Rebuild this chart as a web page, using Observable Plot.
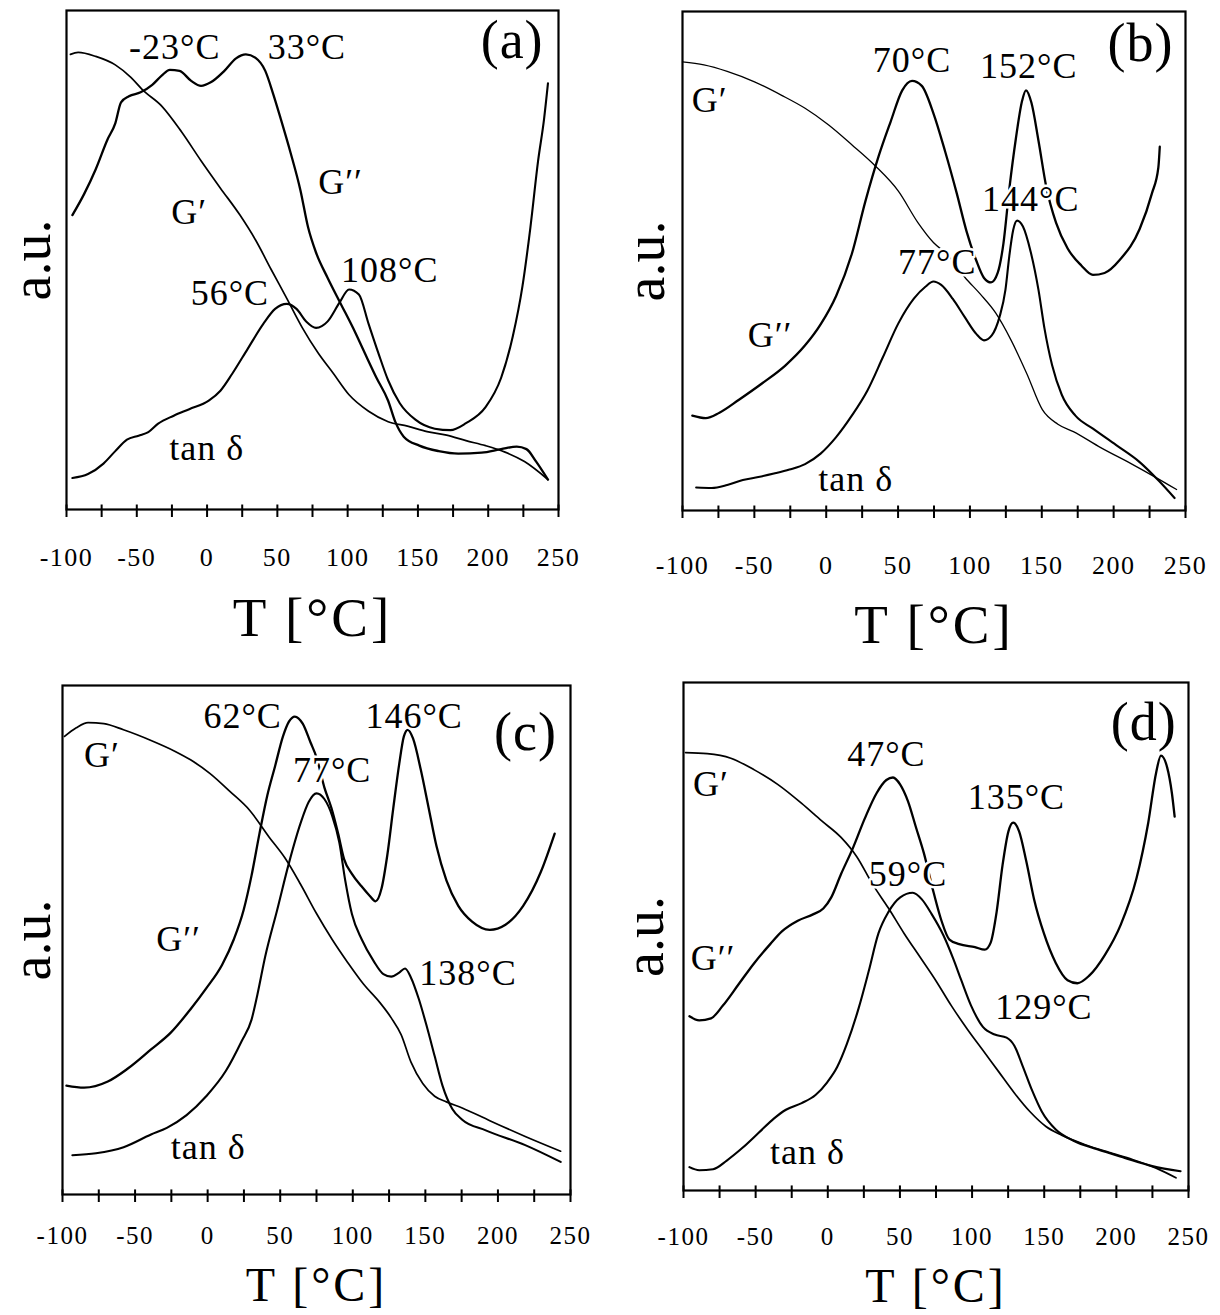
<!DOCTYPE html>
<html><head><meta charset="utf-8">
<script src="https://cdn.jsdelivr.net/npm/d3@7"></script>
<script src="https://cdn.jsdelivr.net/npm/@observablehq/plot@0.6"></script>
<style>
body{margin:0;background:#fff;}
#wrap{position:relative;width:1220px;height:1315px;overflow:hidden;background:#fff;}
.panel{position:absolute;}
svg g[aria-label="x-axis tick label"] text{letter-spacing:1.5px;}
svg g[aria-label="x-axis label"] text{letter-spacing:3px;}
svg g[aria-label="text"] text{letter-spacing:1px;}
</style></head><body><div id="wrap"></div>
<script>
// shared axis ticks (°C)
const xTicks = [-100,-75,-50,-25,0,25,50,75,100,125,150,175,200,225,250];

// ---- panel (a) ----
const aGp = [[-97.2,91.2],[-91.7,91.6],[-79.2,90.8],[-65.3,89.1],[-54.2,86.6],[-45.9,84.1],[-32.1,80.8],[-18.2,75.7],[-4.3,69.9],[9.5,64.4],[23.4,59.0],[34.5,54.0],[45.6,48.1],[56.7,42.3],[67.8,36.4],[78.9,31.4],[90.0,27.2],[101.0,23.0],[114.9,19.7],[128.8,17.6],[142.6,16.7],[156.5,15.6],[170.4,14.9],[184.2,13.8],[198.1,12.8],[212.0,11.5],[225.8,9.6],[242.5,6.0]];
const aGpp = [[-95.8,59.0],[-87.5,63.2],[-79.2,68.2],[-70.9,74.1],[-65.3,77.4],[-61.2,81.6],[-55.6,82.8],[-47.3,83.6],[-39.0,85.1],[-32.1,87.0],[-26.5,88.1],[-19.6,87.9],[-11.3,85.9],[-4.3,84.9],[2.6,85.6],[12.3,87.9],[20.6,90.4],[27.6,91.2],[34.5,90.5],[41.4,87.9],[47.0,83.3],[52.5,78.2],[59.4,71.5],[66.4,64.0],[71.9,56.5],[77.5,51.5],[85.8,46.4],[95.5,41.0],[103.8,36.4],[112.1,31.4],[120.5,26.4],[128.8,21.8],[134.0,17.5],[139.9,14.6],[151.0,12.8],[164.8,11.7],[178.7,11.2],[195.3,11.4],[209.2,12.1],[220.3,12.6],[227.2,12.1],[234.1,9.6],[242.5,6.0]];
const aTan = [[-95.8,6.3],[-84.7,7.1],[-73.7,9.2],[-65.3,11.7],[-57.0,14.0],[-48.7,14.8],[-41.8,15.5],[-34.8,17.2],[-23.7,18.8],[-12.7,20.1],[1.2,21.8],[9.5,23.8],[17.9,27.2],[28.9,32.2],[40.0,37.2],[48.4,40.2],[56.7,41.2],[63.6,40.2],[70.5,37.7],[77.5,36.4],[85.8,37.7],[94.1,41.4],[101.0,44.1],[108.0,43.1],[114.9,37.2],[121.8,31.4],[128.8,25.9],[137.1,21.3],[148.2,18.0],[162.0,16.2],[173.1,15.9],[184.2,17.3],[198.1,20.5],[209.2,26.4],[217.5,34.7],[224.4,44.8],[230.0,56.5],[235.5,69.9],[239.7,78.2],[242.5,85.4]];
const aLabels = [{T:-23,v:92.6,s:"-23°C"},{T:71,v:92.6,s:"33°C"},{T:95,v:65.5,s:"G′′"},{T:-12.7,v:59.5,s:"G′"},{T:16.2,v:43.3,s:"56°C"},{T:130,v:47.9,s:"108°C"},{T:-0.2,v:12.2,s:"tan δ"}];
const aLetter = [{T:217,v:94,s:"(a)"}];

// ---- panel (b) ----
const bGp = [[-100,89.9],[-85.1,89.3],[-68.9,88.0],[-49.9,85.9],[-31.0,83.2],[-14.7,80.6],[1.5,77.3],[17.8,73.3],[34.0,69.1],[50.2,64.0],[63.8,57.7],[74.6,53.7],[85.4,51.0],[96.3,46.8],[107.1,43.4],[117.9,39.6],[128.7,34.1],[139.6,27.4],[150.4,20.2],[161.2,17.3],[172.0,15.8],[191.0,12.6],[212.7,9.3],[228.9,6.7],[243.8,4.2]];
const bGpp = [[-93.2,19.0],[-83.8,18.5],[-74.3,19.6],[-60.7,22.2],[-44.5,25.5],[-28.3,29.1],[-14.7,33.1],[-3.9,37.3],[6.9,43.0],[17.8,51.4],[27.2,61.9],[36.7,71.2],[44.8,77.9],[52.9,84.2],[59.7,86.1],[66.5,85.1],[74.6,79.6],[82.7,72.0],[90.8,63.6],[97.6,56.0],[104.4,50.1],[109.8,46.6],[114.7,45.7],[119.3,47.6],[123.3,53.5],[127.4,64.4],[132.0,74.6],[136.3,82.1],[139.0,84.2],[142.8,81.7],[147.7,74.1],[153.1,64.9],[159.9,57.7],[168.0,52.5],[177.5,49.1],[185.6,47.2],[193.7,47.6],[204.5,50.3],[218.1,56.4],[226.7,63.6],[231.1,68.7],[232.1,72.9]];
const bTan = [[-90.5,4.6],[-79.7,4.5],[-68.9,5.1],[-58.0,6.1],[-47.2,6.7],[-36.4,7.4],[-25.6,8.2],[-14.7,9.3],[-3.9,11.4],[6.9,14.7],[17.8,19.0],[28.6,24.0],[39.4,30.7],[50.2,37.5],[61.1,42.5],[69.2,44.9],[74.6,45.9],[80.0,45.2],[88.1,42.4],[96.3,38.8],[104.4,35.4],[109.8,34.1],[115.2,35.1],[120.6,38.8],[124.7,44.2],[127.4,51.0],[130.1,56.2],[132.8,58.1],[136.9,56.9],[142.3,51.8],[147.7,44.2],[151.8,36.6],[157.2,29.1],[163.9,23.2],[173.4,19.0],[185.6,16.4],[201.8,13.1],[218.1,9.7],[231.6,5.9],[242.4,2.5]];
const bLabels = [{T:59.7,v:90.1,s:"70°C"},{T:140.9,v:88.9,s:"152°C"},{T:-81.1,v:82.1,s:"G′"},{T:142.3,v:62.3,s:"144°C"},{T:77.3,v:49.7,s:"77°C"},{T:-39.1,v:35.0,s:"G′′"},{T:20.5,v:6.3,s:"tan δ"}];
const bLetter = [{T:218.7,v:93.6,s:"(b)"}];

// ---- panel (c) ----
const cGp = [[-98.6,90.0],[-90.5,91.7],[-82.4,92.7],[-71.5,92.5],[-58.0,91.3],[-39.0,89.2],[-22.7,87.1],[-11.8,85.4],[1.7,82.7],[15.3,79.2],[28.9,75.5],[42.4,70.2],[53.3,66.1],[64.1,60.9],[75.0,55.2],[85.8,50.1],[96.7,45.5],[107.5,41.3],[118.4,37.8],[126.5,34.7],[133.3,31.4],[140.1,26.0],[148.2,21.8],[156.4,19.3],[164.5,18.2],[175.4,17.0],[194.4,14.5],[218.8,11.4],[243.2,8.5]];
const cGpp = [[-97.3,21.4],[-85.1,21.0],[-68.8,22.2],[-55.2,24.7],[-39.0,28.5],[-25.4,31.8],[-11.8,36.4],[-1.0,40.5],[9.9,45.1],[18.0,50.1],[24.8,55.9],[30.2,62.6],[35.7,70.9],[41.1,78.4],[46.5,84.2],[51.9,90.0],[56.0,92.9],[60.1,93.9],[65.5,92.5],[70.9,88.8],[75.0,85.9],[80.4,80.0],[85.3,75.9],[89.9,70.9],[94.0,65.9],[99.4,63.0],[106.2,60.5],[111.6,58.7],[115.7,57.6],[119.8,60.1],[123.8,66.7],[127.9,75.9],[132.0,84.6],[135.2,90.0],[137.9,91.3],[141.5,89.6],[146.9,83.4],[152.3,75.9],[157.7,68.4],[164.5,61.7],[172.7,56.7],[182.2,53.6],[194.4,52.0],[205.2,53.0],[217.4,56.7],[229.6,63.4],[239.1,70.9]];
const cTan = [[-93.2,7.7],[-76.9,8.1],[-57.9,9.3],[-39.0,11.8],[-28.1,13.1],[-14.5,15.6],[-1.0,19.3],[12.6,24.3],[23.4,30.1],[30.2,34.3],[34.3,39.3],[39.7,46.8],[47.9,55.9],[56.0,65.1],[64.1,73.0],[69.6,77.1],[75.0,78.8],[80.4,77.7],[85.8,74.4],[90.7,69.2],[94.8,61.7],[99.4,55.1],[106.2,50.1],[114.3,45.9],[121.1,43.3],[126.5,42.8],[132.0,43.6],[136.0,44.4],[140.1,42.6],[145.5,38.4],[151.0,33.0],[156.4,27.2],[161.8,21.4],[168.6,16.8],[175.4,14.7],[191.6,12.6],[218.8,9.7],[243.2,6.4]];
const cLabels = [{T:24.1,v:94,s:"62°C"},{T:142.3,v:94,s:"146°C"},{T:-72.9,v:86.3,s:"G′"},{T:85.8,v:83.4,s:"77°C"},{T:-20,v:50.1,s:"G′′"},{T:179.4,v:43.4,s:"138°C"},{T:0.4,v:9.3,s:"tan δ"}];
const cLetter = [{T:219,v:90.8,s:"(c)"}];

// ---- panel (d) ----
const dGp = [[-98.6,86.2],[-83.6,86.0],[-67.2,85.1],[-50.9,82.8],[-34.5,79.9],[-18.1,76.2],[-4.4,72.8],[9.2,69.5],[20.1,65.7],[31.0,60.3],[42.0,55.6],[52.9,50.6],[63.8,46.0],[74.7,41.4],[85.6,36.4],[96.6,31.8],[107.5,27.6],[118.4,23.4],[129.3,19.2],[140.2,15.5],[151.2,12.6],[162.1,10.9],[178.5,9.0],[194.8,7.5],[211.2,6.1],[227.6,4.4],[241.3,2.5]];
const dGpp = [[-95.9,34.3],[-89.1,33.5],[-80.9,33.9],[-72.7,36.4],[-61.8,40.6],[-50.9,44.8],[-39.9,48.5],[-31.8,51.0],[-20.8,53.1],[-9.9,54.4],[-3.1,55.5],[2.4,57.7],[9.2,62.3],[17.4,67.4],[25.6,73.2],[33.8,78.2],[40.6,80.8],[45.2,81.3],[50.2,79.9],[55.6,76.6],[61.1,71.5],[66.5,66.5],[73.4,58.6],[78.8,53.1],[84.3,49.4],[91.1,48.5],[102.0,47.9],[108.8,47.4],[112.9,48.8],[117.0,54.8],[121.1,64.0],[125.2,70.7],[128.5,72.4],[132.6,70.7],[137.5,64.9],[143.0,57.3],[149.8,50.6],[158.0,44.8],[166.2,41.4],[173.0,40.8],[181.2,42.3],[192.1,46.4],[203.0,52.3],[214.0,61.5],[222.1,72.4],[227.6,82.3],[230.9,85.6],[235.2,83.3],[238.5,78.2],[240.4,73.6]];
const dTan = [[-95.9,4.6],[-89.1,4.0],[-79.5,4.2],[-70.0,5.9],[-59.1,8.4],[-48.1,11.3],[-37.2,14.2],[-29.0,15.9],[-18.1,17.2],[-8.5,18.8],[-0.4,21.3],[6.5,24.3],[13.3,28.9],[21.5,36.0],[28.3,43.1],[35.1,50.6],[42.0,54.8],[50.2,57.7],[58.9,58.6],[65.2,57.3],[72.0,54.4],[80.2,50.2],[87.0,45.6],[92.5,41.4],[99.3,36.4],[107.5,32.2],[115.7,30.7],[123.9,30.1],[129.3,28.5],[134.8,24.7],[141.6,19.7],[148.4,15.5],[158.0,12.0],[170.3,9.8],[186.7,8.1],[205.8,6.4],[224.9,4.8],[244.5,3.8]];
const dLabels = [{T:40.6,v:85.8,s:"47°C"},{T:130.7,v:77.4,s:"135°C"},{T:-80.9,v:79.9,s:"G′"},{T:55.6,v:62.3,s:"59°C"},{T:-79.5,v:45.6,s:"G′′"},{T:149.8,v:36.0,s:"129°C"},{T:-14.0,v:7.5,s:"tan δ"}];
const dLetter = [{T:219,v:92,s:"(d)"}];

const SERIF = "'Liberation Serif','Times New Roman',Times,serif";

function panel({gp, gpp, tan, labels, letter, left, top, mL, mR, mT, mB, gpW, pad, tickFont, tOff, tFont, aOff}) {
  const line = (data, w) => Plot.line(data, {x: d => d[0], y: d => d[1], curve: "monotone-x", stroke: "black", strokeWidth: w, strokeLinejoin: "round"});
  const svg = Plot.plot({
    width: 610, height: 655,
    marginLeft: mL, marginRight: mR, marginTop: mT, marginBottom: mB,
    x: {domain: [-100, 250]},
    y: {domain: [0, 100]},
    style: {fontFamily: SERIF, background: "white", color: "black", overflow: "visible"},
    marks: [
      line(gp, gpW),
      line(gpp, 2.3),
      line(tan, 2.1),
      Plot.text(labels, {x: "T", y: "v", text: "s", fontSize: 36, fill: "black", stroke: "white", strokeWidth: 5, paintOrder: "stroke"}),
      Plot.text(letter, {x: "T", y: "v", text: "s", fontSize: 54, fill: "black"}),
      Plot.frame({stroke: "black", strokeWidth: 2.2}),
      Plot.ruleX(xTicks, {y1: 0, y2: 0.9, stroke: "black", strokeWidth: 2}),
      Plot.axisX({ticks: xTicks, tickSize: 8, tickPadding: pad, strokeWidth: 2, fontSize: tickFont,
        tickFormat: d => d % 50 === 0 ? String(d) : "", label: null}),
      Plot.axisX({ticks: [], label: "T [°C]", labelAnchor: "center", labelArrow: "none", labelOffset: tOff, fontSize: tFont}),
      Plot.axisY({ticks: [], label: "a.u.", labelAnchor: "center", labelArrow: "none", labelOffset: aOff, fontSize: 56})
    ]
  });
  const div = document.createElement("div");
  div.className = "panel";
  div.style.left = left + "px";
  div.style.top = top + "px";
  div.appendChild(svg);
  document.getElementById("wrap").appendChild(div);
}

panel({gp: aGp, gpp: aGpp, tan: aTan, labels: aLabels, letter: aLetter, left: 0, top: 0, mL: 66, mR: 52, mT: 10, mB: 146, gpW: 1.7, pad: 30, tickFont: 26, tOff: 126, tFont: 55, aOff: 56});
panel({gp: bGp, gpp: bGpp, tan: bTan, labels: bLabels, letter: bLetter, left: 610, top: 0, mL: 72, mR: 35, mT: 11, mB: 145, gpW: 1.3, pad: 37, tickFont: 26, tOff: 132, tFont: 55, aOff: 58});
panel({gp: cGp, gpp: cGpp, tan: cTan, labels: cLabels, letter: cLetter, left: 0, top: 660, mL: 62, mR: 40, mT: 25, mB: 121, gpW: 1.7, pad: 24, tickFont: 25, tOff: 106, tFont: 48, aOff: 52});
panel({gp: dGp, gpp: dGpp, tan: dTan, labels: dLabels, letter: dLetter, left: 610, top: 660, mL: 73, mR: 32, mT: 22, mB: 125, gpW: 1.7, pad: 29, tickFont: 25, tOff: 111, tFont: 48, aOff: 60});
</script>
</body></html>
